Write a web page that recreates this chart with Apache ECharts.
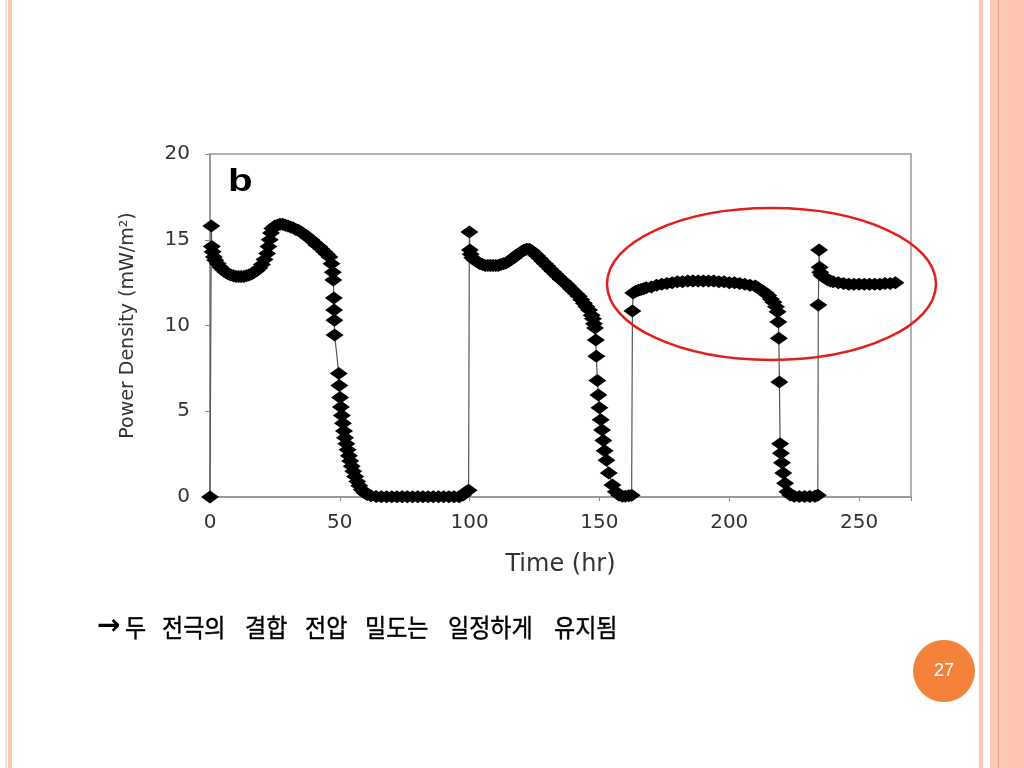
<!DOCTYPE html>
<html>
<head>
<meta charset="utf-8">
<script src="https://cdn.jsdelivr.net/npm/echarts@6/dist/echarts.min.js"></script>
<style>
  html, body { margin: 0; padding: 0; background: #ffffff; }
  #chart { width: 1024px; height: 768px; }
</style>
</head>
<body>
<div id="chart"></div>
<script>
// ---- data ----
const timeHr = [
  0, 0.5, 0.7, 1, 1.5, 2, 3, 4, 5, 6, 7, 8, 9, 10, 11, 12, 13, 14, 15, 16, 17,
  18, 19, 20, 21, 22, 22.5, 23, 23.5, 24, 25, 26, 27, 28, 29, 30, 31, 32, 33, 34,
  35, 36, 37, 38, 39, 40, 41, 42, 43, 44, 45, 46, 46.8, 47.3, 47.5, 47.7, 47.8,
  47.9, 48.0, 49.6, 49.8, 50.1, 50.4, 50.8, 51.2, 51.6, 52.0, 52.5, 53.0, 53.5,
  54.0, 54.6, 55.2, 55.9, 56.7, 57.5, 58.5, 59.5, 60.5, 62, 64, 66, 68, 70, 72,
  74, 76, 78, 80, 82, 84, 86, 88, 90, 92, 94, 96, 97.5, 98.7, 99.6,
  99.9, 100.1, 100.4, 101, 102, 103, 104, 105, 106, 107, 108, 109, 110, 111, 112,
  113, 114, 115, 116, 117, 118, 119, 120, 121, 122, 123, 124, 125, 126, 127, 128,
  129, 130, 131, 132, 133, 134, 135, 136, 137, 138, 139, 140, 141, 142, 143, 144,
  145, 146, 147, 147.5, 147.9, 148.3, 148.6, 148.8, 149.2, 149.6, 150, 150.5, 151, 151.5,
  152, 152.7, 153.6, 155, 156.3, 157.5, 158.8, 160, 161.3, 162.4,
  162.7, 163, 164, 165, 166, 167, 168, 170, 172, 174, 176, 178, 180, 182, 184, 186,
  188, 190, 192, 194, 196, 198, 200, 202, 204, 206, 208, 210, 211, 212, 213, 214,
  215, 216, 217, 218, 218.6, 218.9, 219.1, 219.3, 219.6, 219.9, 220.3, 220.8,
  221.5, 222.4, 223.5, 225, 227, 229, 231, 233, 234.1,
  234.3, 234.6, 234.8, 235, 235.5, 236, 237, 238, 239, 240, 242, 244, 246, 248,
  250, 252, 254, 256, 258, 260, 262, 264
];
const powerDensity = [
  0, 15.8, 14.6, 14.3, 14.0, 13.8, 13.6, 13.4, 13.25, 13.1, 13.0, 12.95, 12.9,
  12.85, 12.85, 12.85, 12.85, 12.9, 12.95, 13.0, 13.1,
  13.2, 13.35, 13.55, 13.85, 14.2, 14.6, 15.0, 15.4, 15.65, 15.8, 15.85, 15.9,
  15.9, 15.85, 15.8, 15.75, 15.7, 15.6, 15.55,
  15.45, 15.35, 15.25, 15.1, 15.0, 14.85, 14.7, 14.6, 14.45, 14.3, 14.15, 14.0,
  13.6, 13.1, 12.65, 11.6, 10.9, 10.3, 9.45, 7.2, 6.5, 5.8, 5.25, 4.75, 4.3, 3.85,
  3.45, 3.1, 2.75, 2.4, 2.1, 1.8, 1.5, 1.2, 0.9, 0.65, 0.42, 0.25, 0.14, 0.07,
  0.03, 0.02, 0.02, 0.02, 0.02, 0.02, 0.02, 0.02, 0.02, 0.02, 0.02, 0.02, 0.02,
  0.02, 0.02, 0.02, 0.02, 0.12, 0.3, 0.4,
  15.45, 14.4, 14.15, 13.95, 13.8, 13.7, 13.6, 13.55, 13.5, 13.5, 13.5, 13.5,
  13.5, 13.5, 13.55, 13.6, 13.65, 13.75, 13.85, 13.95, 14.1, 14.2, 14.3, 14.4,
  14.45, 14.45, 14.35, 14.2, 14.05, 13.9, 13.75, 13.6, 13.45, 13.3, 13.15, 13.0,
  12.85, 12.7, 12.6, 12.45, 12.3, 12.15, 12.0, 11.85, 11.7, 11.5, 11.3, 11.1,
  10.9, 10.6, 10.4, 10.1, 9.85, 9.15, 8.2, 6.8, 5.95, 5.2, 4.5, 3.9, 3.3, 2.7, 2.15,
  1.4, 0.7, 0.3, 0.12, 0.05, 0.05, 0.08, 0.1,
  10.85, 11.9, 12.0, 12.05, 12.1, 12.15, 12.2, 12.25, 12.35, 12.4, 12.45, 12.5,
  12.55, 12.55, 12.6, 12.6, 12.6, 12.6, 12.6, 12.6, 12.55, 12.55, 12.5, 12.5,
  12.45, 12.4, 12.35, 12.3, 12.2, 12.1, 12.0, 11.9, 11.75, 11.55, 11.35, 11.1,
  10.8, 10.2, 9.25, 6.7, 3.1, 2.55, 2.0, 1.4, 0.8, 0.3, 0.12, 0.05, 0.03, 0.03,
  0.03, 0.05, 0.1,
  11.2, 14.4, 13.4, 13.1, 12.95, 12.85, 12.75, 12.65, 12.6, 12.55, 12.5, 12.45,
  12.4, 12.4, 12.4, 12.4, 12.4, 12.4, 12.4, 12.45, 12.45, 12.5
];
const xAxisName = 'Time (hr)';
const yAxisName = 'Power Density (mW/m\u00B2)';
const panelLabel = 'b';
const captionArrow = '\u2192';
const captionWords = ['두', '전극의', '결합', '전압', '밀도는', '일정하게', '유지됨'];
const pageNumber = '27';

const seriesData = timeHr.map((t, i) => [t, powerDensity[i]]);

// caption word layout
const capFont = 25, capScale = 0.92, capSpace = 14;
const capPitch = capFont * capScale;
let capX = 125;
const captionGraphics = captionWords.map(w => {
  const el = {
    type: 'text', x: capX, y: 627, scaleX: capScale, z: 50,
    style: {
      text: w, fill: '#000',
      font: 'normal ' + capFont + 'px "Noto Sans CJK KR"',
      textVerticalAlign: 'middle', textAlign: 'left',
      stroke: '#000', lineWidth: 0.4
    }
  };
  capX += w.length * capPitch + capSpace;
  return el;
});

const chart = echarts.init(document.getElementById('chart'), null, { renderer: 'canvas' });
chart.setOption({
  animation: false,
  backgroundColor: '#ffffff',
  grid: {
    left: 210, right: 113, top: 154, bottom: 271,
    show: true, borderColor: '#9a9a9a', borderWidth: 1.5, backgroundColor: 'transparent'
  },
  xAxis: {
    type: 'value', min: 0, max: 270, interval: 50,
    name: xAxisName, nameLocation: 'middle', nameGap: 56,
    nameTextStyle: { fontFamily: 'DejaVu Sans', fontSize: 24, color: '#333' },
    axisLine: { show: true, onZero: false, lineStyle: { color: '#9a9a9a', width: 2 } },
    axisTick: { show: true, inside: false, length: 4, lineStyle: { color: '#888', width: 1 } },
    axisLabel: {
      fontFamily: 'DejaVu Sans', fontSize: 20, color: '#333', margin: 16,
      formatter: v => (v > 250 ? '' : String(v))
    },
    splitLine: { show: false }
  },
  yAxis: {
    type: 'value', min: 0, max: 20, interval: 5,
    name: yAxisName, nameLocation: 'middle', nameGap: 72, nameRotate: 90,
    nameTextStyle: { fontFamily: 'DejaVu Sans', fontSize: 19, color: '#333' },
    axisLine: { show: true, lineStyle: { color: '#9a9a9a', width: 2 } },
    axisTick: { show: true, inside: false, length: 5, lineStyle: { color: '#888', width: 1 } },
    axisLabel: { fontFamily: 'DejaVu Sans', fontSize: 20, color: '#333', margin: 20 },
    splitLine: { show: false }
  },
  series: [{
    type: 'line',
    data: seriesData,
    symbol: 'diamond',
    symbolSize: [18, 13],
    showAllSymbol: true,
    itemStyle: { color: '#000000' },
    lineStyle: { color: '#555555', width: 1.2 },
    z: 3
  }],
  graphic: [
    // slide decorations: left border stripes
    { type: 'rect', shape: { x: 5, y: 0, width: 2, height: 768 }, style: { fill: '#f6e3d6' }, z: 1 },
    { type: 'rect', shape: { x: 8, y: 0, width: 4, height: 768 }, style: { fill: '#fcc6b6' }, z: 1 },
    // right border stripes
    { type: 'rect', shape: { x: 979, y: 0, width: 4, height: 768 }, style: { fill: '#fbc8ba' }, z: 1 },
    { type: 'rect', shape: { x: 990, y: 0, width: 34, height: 768 }, style: { fill: '#fdc9b7' }, z: 1 },
    { type: 'rect', shape: { x: 1008, y: 0, width: 16, height: 768 }, style: { fill: '#fec4ae' }, z: 1 },
    { type: 'rect', shape: { x: 998, y: 0, width: 1, height: 768 }, style: { fill: '#e59f82' }, z: 1 },
    // panel label
    {
      type: 'text', x: 228, y: 182, scaleX: 1.3, z: 50,
      style: { text: panelLabel, fill: '#000', font: 'bold 31px "Liberation Sans"', textVerticalAlign: 'middle' }
    },
    // red ellipse highlight
    {
      type: 'ellipse', z: 100,
      shape: { cx: 771.5, cy: 284, rx: 164.5, ry: 76 },
      style: { fill: 'none', stroke: '#e11f1c', lineWidth: 2.5 }
    },
    // caption arrow
    {
      type: 'text', x: 97, y: 627, z: 50,
      style: { text: captionArrow, fill: '#000', font: 'bold 28px "DejaVu Sans"', textVerticalAlign: 'middle' }
    },
    ...captionGraphics,
    // page number
    {
      type: 'circle', z: 50, shape: { cx: 944, cy: 671, r: 31 },
      style: { fill: '#f5823a' }
    },
    {
      type: 'text', x: 944, y: 671, z: 51,
      style: { text: pageNumber, fill: '#ffffff', font: 'normal 18px "Liberation Sans"', textAlign: 'center', textVerticalAlign: 'middle' }
    }
  ]
});
</script>
</body>
</html>
